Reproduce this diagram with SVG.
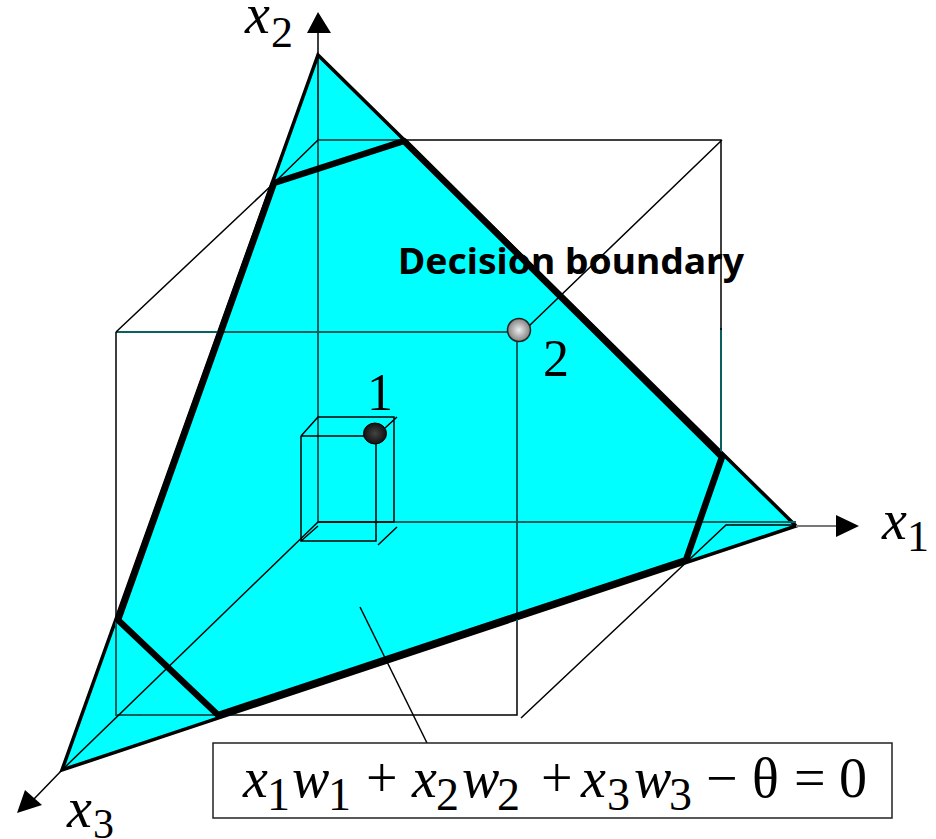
<svg xmlns="http://www.w3.org/2000/svg" width="936" height="839" viewBox="0 0 936 839">
<style>
.t{font-family:"Liberation Serif","Times New Roman",serif;fill:#000;font-size:56px}
.i{font-style:italic}
.s{font-size:46px}
.a{font-size:44px}
.thin{fill:none;stroke:#000;stroke-width:1.5}
.in{fill:none;stroke:#0a5f5f;stroke-width:2}
.thick{fill:none;stroke:#000;stroke-width:6.500;stroke-linejoin:round;stroke-linecap:round}
</style>
<defs>
<radialGradient id="g1" cx=".5" cy=".5" r=".55"><stop offset="0" stop-color="#444"/><stop offset="1" stop-color="#0c0c0c"/></radialGradient>
<radialGradient id="g2" cx=".5" cy=".5" r=".55"><stop offset="0" stop-color="#eee"/><stop offset="1" stop-color="#777"/></radialGradient>
</defs>
<g id="plane">
<path d="M318 55L796 526L62 770Z" fill="#0ff" stroke="#000" stroke-width="3.500" stroke-linejoin="miter"/>
</g>
<g id="connectors">
<path class="in" d="M318 140V522H796M116 332H507M517 342V622M318 140H404M721 328V457M116 618V715H218"/>
<path class="thin" d="M318 140V55M116 618V332M116 332L274 183M318 140L274 183M529 326L722 140M404 140H721V330M517 622V715H218M521 718L726 525H796"/>
<path class="thin" d="M318 522L62 770"/>
<path class="thin" d="M318 55V30M62 770L34 799"/>
<path fill="none" stroke="#777" stroke-width="2" d="M796 526H838"/>
<path d="M318 12L331 33H307ZM859 526L836 515V537ZM17 813L25 790L42 805Z" fill="#000"/>
<path class="thin" d="M360 607L427 743"/>
<path class="thin" d="M301 436L318 417H394V522H318M301 436H364M301 436V541H376V444M301 541L318 526M385 428L397 417M378 545L397 527"/>
</g>
<g id="boundary">
<path class="thick" d="M274 183L404 141L722 457L686 560L218 715L118 620Z"/>
</g>
<g id="point-1">
<ellipse cx="375" cy="433.500" rx="11.500" ry="10.500" fill="url(#g1)" stroke="#000"/>
<text class="t" x="380" y="410" style="font-size:52px" text-anchor="middle">1</text>
</g>
<g id="point-2">
<circle cx="519" cy="330" r="11.500" fill="url(#g2)" stroke="#222" stroke-width="1.500"/>
<text class="t" x="556" y="376" style="font-size:52px" text-anchor="middle">2</text>
</g>
<g id="label-boundary">
<text x="398" y="274" font-family="'Noto Sans','DejaVu Sans',sans-serif" font-weight="700" font-size="36" textLength="346" lengthAdjust="spacingAndGlyphs">Decision boundary</text>
</g>
<g id="axis-x1"><text class="t i" x="882" y="539">x</text><text class="t a" x="907" y="551">1</text></g>
<g id="axis-x2"><text class="t i" x="245" y="33">x</text><text class="t a" x="271" y="47">2</text></g>
<g id="axis-x3"><text class="t i" x="67" y="827">x</text><text class="t a" x="93" y="838" style="font-size:42px">3</text></g>
<g id="equation">
<rect x="213" y="743" width="679" height="75" fill="#fff" stroke="#222" stroke-width="1.500"/>
<text class="t i" x="243" y="797">x</text><text class="t s" x="267" y="810">1</text>
<text class="t i" x="292" y="797">w</text><text class="t s" x="328" y="810">1</text>
<text class="t" x="366" y="797">+</text>
<text class="t i" x="412" y="797">x</text><text class="t s" x="436" y="810">2</text>
<text class="t i" x="462" y="797">w</text><text class="t s" x="497" y="810">2</text>
<text class="t" x="541" y="797">+</text>
<text class="t i" x="581" y="797">x</text><text class="t s" x="607" y="810">3</text>
<text class="t i" x="634" y="797">w</text><text class="t s" x="669" y="810">3</text>
<text class="t" x="706" y="797">−</text>
<text class="t" x="752" y="797">θ</text>
<text class="t" x="794" y="797">=</text>
<text class="t" x="839" y="797">0</text>
</g>
</svg>
